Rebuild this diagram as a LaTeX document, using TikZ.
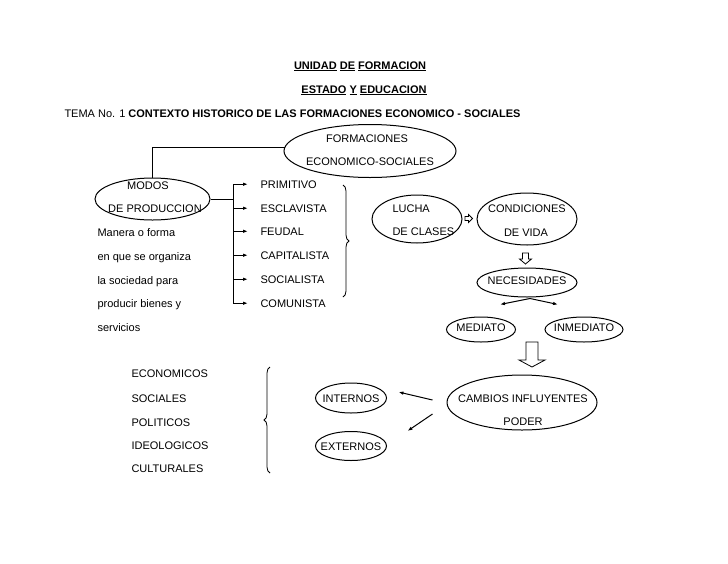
\documentclass[tikz,border=0pt]{standalone}
\usepackage{fontspec}
\setmainfont{Liberation Sans}
\usetikzlibrary{shapes.geometric,arrows.meta,calc,decorations.pathreplacing}
\begin{document}
\begin{tikzpicture}[x=1pt,y=-1pt,
  font=\fontsize{11}{13}\selectfont,
  line width=1pt,
  txt/.style={inner sep=0pt, anchor=base west},
  ctxt/.style={inner sep=0pt, anchor=base},
  ell/.style 2 args={draw, ellipse, inner sep=0pt, minimum width=#1, minimum height=#2},
  arr/.style={-{Latex[length=5pt,width=3.5pt]}},
  hollow/.style={draw, fill=white, line width=0.8pt, line join=miter},
  bracedeco/.style={decorate, decoration={brace, amplitude=6pt}, line width=0.8pt}]
\useasboundingbox (0,0) rectangle (728,563);

% titles
\node[ctxt] (t1) at (360,69) {\bfseries\underline{UNIDAD} \underline{DE} \underline{FORMACION}};
\node[ctxt] (t2) at (364,93) {\bfseries\underline{ESTADO} \underline{Y} \underline{EDUCACION}};
\node[txt] (tema) at (64,117) {TEMA No. 1 \textbf{CONTEXTO HISTORICO DE LAS FORMACIONES ECONOMICO - SOCIALES}};

% formaciones
\node[ell={172pt}{53pt}] (form) at (370,151) {};
\node[ctxt] (formA) at (367,142) {FORMACIONES};
\node[ctxt] (formB) at (370,165) {ECONOMICO-SOCIALES};

% modos
\node[ell={115pt}{42pt}] (modos) at (152.5,199) {};
\node[ctxt] (modosA) at (148,189) {MODOS};
\node[ctxt] (modosB) at (155,212) {DE PRODUCCION};
\draw ($(form.west)+(1,-4)$) -| (modos.north);

% description
\node[txt] (d1) at (97,236) {Manera o forma};
\node[txt] (d2) at (97,260) {en que se organiza};
\node[txt] (d3) at (97,284) {la sociedad para};
\node[txt] (d4) at (97,307) {producir bienes y};
\node[txt] (d5) at (97,331) {servicios};

% list of modes
\node[txt] (m1) at (260,188) {PRIMITIVO};
\node[txt] (m2) at (260,212) {ESCLAVISTA};
\node[txt] (m3) at (260,235) {FEUDAL};
\node[txt] (m4) at (260,259) {CAPITALISTA};
\node[txt] (m5) at (260,283) {SOCIALISTA};
\node[txt] (m6) at (260,307) {COMUNISTA};
\coordinate (bus) at (233,199);
\draw (modos.east) -- (bus);
\draw (bus |- m1.west) -- (bus |- m6.west);
\foreach \m in {m1,m2,m3,m4,m5,m6}
  \draw[arr] (bus |- \m.west) -- ([xshift=-12pt]\m.west);

% brace right of list
\coordinate (br1t) at (343,185);
\coordinate (br1b) at (343,297);
\draw[bracedeco] (br1t) -- (br1b);

% lucha / condiciones
\node[ell={90pt}{48pt}] (lucha) at (417,219) {};
\node[txt] (luchaA) at (392,212) {LUCHA};
\node[txt] (luchaB) at (392,235) {DE CLASES};
\node[ell={100pt}{52pt}] (cond) at (527,219) {};
\node[ctxt] (condA) at (527,212) {CONDICIONES};
\node[ctxt] (condB) at (526,236) {DE VIDA};
\draw[hollow] (465,216.5) -- (468.5,216.5) -- (468.5,214.5) -- (472.5,218.5)
  -- (468.5,222.5) -- (468.5,220.5) -- (465,220.5) -- cycle;
\draw[hollow] (522.5,253) -- (528.5,253) -- (528.5,259) -- (531.5,259) -- (525.5,264)
  -- (519.5,259) -- (522.5,259) -- cycle;

% necesidades
\node[ell={100pt}{29pt}] (nec) at (527,282.5) {};
\node[ctxt] (necA) at (527,284) {NECESIDADES};
\node[ell={69pt}{25pt}] (med) at (481,329.5) {};
\node[ctxt] (medA) at (481,331) {MEDIATO};
\node[ell={78pt}{25pt}] (inm) at (584,329.5) {};
\node[ctxt] (inmA) at (584,331) {INMEDIATO};
\draw[arr] ($(nec.south)+(3,1)$) -- ($(med.north)+(19,-12)$);
\draw[arr] ($(nec.south)+(3,1)$) -- ($(inm.north)+(-26,-12)$);

% big arrow
\draw[hollow] (526,342) -- (538,342) -- (538,360) -- (545,360) -- (532,367)
  -- (519,360) -- (526,360) -- cycle;

% cambios
\node[ell={150pt}{55pt}] (camb) at (522,402.5) {};
\node[ctxt] (cambA) at (523,402) {CAMBIOS INFLUYENTES};
\node[ctxt] (cambB) at (523,425) {PODER};
\node[ell={71pt}{30pt}] (intn) at (351,398) {};
\node[ctxt] (intnA) at (351,402) {INTERNOS};
\node[ell={71pt}{29pt}] (extn) at (351,446) {};
\node[ctxt] (extnA) at (351,450) {EXTERNOS};
\draw[arr] ($(camb.west)+(-14,-2.5)$) -- ($(intn.east)+(11.5,-6)$);
\draw[arr] ($(camb.west)+(-14,11.5)$) -- ($(extn.east)+(20.5,-15)$);

% factors
\node[txt] (f1) at (131,377) {ECONOMICOS};
\node[txt] (f2) at (131,402) {SOCIALES};
\node[txt] (f3) at (131,426) {POLITICOS};
\node[txt] (f4) at (131,449) {IDEOLOGICOS};
\node[txt] (f5) at (131,472) {CULTURALES};
\coordinate (br2b) at (270,473);
\coordinate (br2t) at (270,367);
\draw[bracedeco] (br2b) -- (br2t);
\end{tikzpicture}
\end{document}
